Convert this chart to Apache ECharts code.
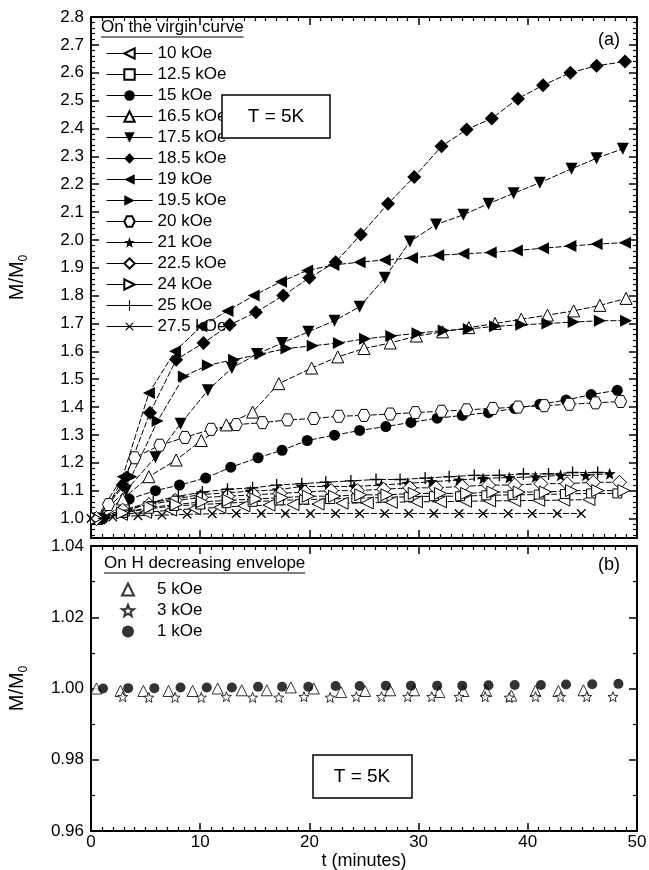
<!DOCTYPE html>
<html><head><meta charset="utf-8">
<script src="https://cdn.jsdelivr.net/npm/echarts@6/dist/echarts.min.js"></script>
<style>html,body{margin:0;padding:0;background:#fff}.ch{position:absolute;left:0;top:0;width:649px;height:870px}</style>
</head><body><div id="ca" class="ch"></div><div id="cb" class="ch"></div>
<script>
const FONT = '"Liberation Sans", Arial, Helvetica, sans-serif';

// ---------- tick labels ----------
const xTicks = [0, 10, 20, 30, 40, 50];
const yTicksA = [1.0, 1.1, 1.2, 1.3, 1.4, 1.5, 1.6, 1.7, 1.8, 1.9, 2.0, 2.1, 2.2, 2.3, 2.4, 2.5, 2.6, 2.7, 2.8];
const yTicksB = [0.96, 0.98, 1.00, 1.02, 1.04];

// ---------- panel (a): on the virgin curve ----------
const namesA = ['10 kOe','12.5 kOe','15 kOe','16.5 kOe','17.5 kOe','18.5 kOe','19 kOe','19.5 kOe','20 kOe','21 kOe','22.5 kOe','24 kOe','25 kOe','27.5 kOe'];

const t10   = [0.5, 2.8, 5.0, 7.3, 9.5, 11.8, 14.0, 16.3, 18.5, 20.8, 23.0, 25.3, 27.5, 29.8, 32.0, 34.3, 36.5, 38.8, 41.0, 43.3, 45.6];
const m10   = [1.0, 1.015, 1.022, 1.03, 1.035, 1.04, 1.045, 1.048, 1.05, 1.052, 1.055, 1.056, 1.058, 1.06, 1.06, 1.062, 1.063, 1.064, 1.065, 1.066, 1.068];
const t12_5 = [0.5, 2.9, 5.3, 7.6, 10.0, 12.4, 14.8, 17.2, 19.5, 21.9, 24.3, 26.7, 29.1, 31.4, 33.8, 36.2, 38.6, 41.0, 43.4, 45.8, 48.2];
const m12_5 = [1.0, 1.02, 1.035, 1.045, 1.05, 1.055, 1.06, 1.065, 1.068, 1.07, 1.073, 1.075, 1.078, 1.08, 1.08, 1.083, 1.085, 1.086, 1.088, 1.09, 1.09];
const t15   = [1.1, 3.5, 5.9, 8.1, 10.5, 12.8, 15.3, 17.5, 19.8, 22.3, 24.6, 27.0, 29.3, 31.7, 34.0, 36.4, 38.8, 41.1, 43.5, 45.8, 48.2];
const m15   = [1.0, 1.07, 1.10, 1.12, 1.145, 1.184, 1.218, 1.245, 1.28, 1.299, 1.316, 1.33, 1.345, 1.36, 1.37, 1.38, 1.395, 1.41, 1.425, 1.445, 1.46];
const t16_5 = [0.5, 2.9, 5.3, 7.8, 10.1, 12.4, 14.8, 17.2, 20.2, 22.6, 25.0, 27.4, 29.8, 32.2, 34.6, 37.0, 39.4, 41.8, 44.2, 46.6, 49.0];
const m16_5 = [1.0, 1.07, 1.15, 1.21, 1.28, 1.336, 1.382, 1.484, 1.54, 1.58, 1.61, 1.63, 1.655, 1.67, 1.685, 1.70, 1.715, 1.73, 1.745, 1.765, 1.79];
const t17_5 = [0.5, 3.2, 5.9, 8.2, 10.7, 12.9, 15.2, 17.5, 19.9, 22.3, 24.6, 26.9, 29.2, 31.6, 34.1, 36.4, 38.7, 41.1, 44.0, 46.3, 48.7];
const m17_5 = [1.0, 1.10, 1.22, 1.34, 1.46, 1.54, 1.59, 1.63, 1.67, 1.71, 1.76, 1.864, 1.994, 2.055, 2.09, 2.13, 2.167, 2.205, 2.255, 2.293, 2.327];
const t18_5 = [0.5, 2.9, 5.4, 7.8, 10.3, 12.7, 15.1, 17.6, 20.0, 22.4, 24.7, 27.2, 29.6, 32.1, 34.4, 36.7, 39.1, 41.4, 43.9, 46.3, 48.9];
const m18_5 = [1.0, 1.12, 1.38, 1.57, 1.63, 1.695, 1.74, 1.80, 1.864, 1.92, 2.019, 2.13, 2.226, 2.336, 2.396, 2.436, 2.507, 2.555, 2.60, 2.625, 2.64];
const t19   = [0.5, 2.9, 5.3, 7.7, 10.1, 12.5, 14.9, 17.4, 19.8, 22.2, 24.6, 26.9, 29.4, 31.8, 34.1, 36.6, 39.0, 41.4, 43.9, 46.3, 48.9];
const m19   = [1.0, 1.15, 1.45, 1.60, 1.69, 1.745, 1.80, 1.85, 1.89, 1.91, 1.92, 1.928, 1.935, 1.945, 1.95, 1.955, 1.962, 1.97, 1.978, 1.985, 1.99];
const t19_5 = [0.5, 3.7, 6.1, 8.5, 10.7, 13.1, 15.5, 17.9, 20.3, 22.7, 25.1, 27.5, 29.9, 32.3, 34.6, 37.0, 39.4, 41.8, 44.2, 46.6, 49.0];
const m19_5 = [1.0, 1.15, 1.35, 1.51, 1.55, 1.57, 1.59, 1.61, 1.62, 1.63, 1.645, 1.655, 1.665, 1.675, 1.68, 1.69, 1.695, 1.70, 1.705, 1.71, 1.71];
const t20   = [1.6, 4.0, 6.3, 8.6, 11.0, 13.3, 15.7, 18.0, 20.4, 22.7, 25.0, 27.4, 29.7, 32.1, 34.4, 36.8, 39.1, 41.5, 43.8, 46.2, 48.5];
const m20   = [1.05, 1.218, 1.263, 1.291, 1.32, 1.337, 1.344, 1.354, 1.359, 1.367, 1.37, 1.375, 1.38, 1.385, 1.39, 1.395, 1.40, 1.405, 1.41, 1.415, 1.42];
const t21   = [0.5, 2.9, 5.3, 7.6, 10.0, 12.4, 14.6, 17.1, 19.3, 21.7, 24.1, 26.6, 29.0, 31.2, 33.7, 35.9, 38.3, 40.7, 43.0, 45.3, 47.5];
const m21   = [1.0, 1.03, 1.057, 1.069, 1.086, 1.092, 1.098, 1.103, 1.115, 1.115, 1.115, 1.12, 1.126, 1.132, 1.138, 1.144, 1.147, 1.149, 1.155, 1.155, 1.161];
const t22_5 = [0.5, 2.9, 5.3, 7.7, 10.1, 12.5, 14.9, 17.3, 19.6, 22.0, 24.4, 26.8, 29.2, 31.6, 34.0, 36.4, 38.8, 41.2, 43.6, 46.0, 48.4];
const m22_5 = [1.0, 1.03, 1.05, 1.065, 1.075, 1.08, 1.085, 1.09, 1.095, 1.10, 1.10, 1.105, 1.11, 1.11, 1.115, 1.12, 1.12, 1.125, 1.125, 1.13, 1.13];
const t24   = [0.5, 2.9, 5.4, 7.8, 10.2, 12.6, 15.1, 17.5, 19.9, 22.3, 24.7, 27.1, 29.6, 32.0, 34.4, 36.8, 39.2, 41.6, 44.0, 46.4, 48.8];
const m24   = [1.0, 1.02, 1.04, 1.05, 1.06, 1.065, 1.07, 1.075, 1.08, 1.08, 1.085, 1.085, 1.09, 1.09, 1.09, 1.095, 1.095, 1.095, 1.10, 1.10, 1.10];
const t25   = [1.2, 3.5, 5.7, 8.0, 10.2, 12.5, 14.8, 17.0, 19.3, 21.5, 23.8, 26.1, 28.3, 30.6, 32.8, 35.1, 37.4, 39.6, 41.9, 44.1, 46.4];
const m25   = [1.0, 1.03, 1.06, 1.08, 1.095, 1.105, 1.11, 1.12, 1.125, 1.13, 1.135, 1.14, 1.14, 1.145, 1.15, 1.155, 1.155, 1.16, 1.16, 1.165, 1.165];
const t27_5 = [0.0, 2.0, 4.3, 6.5, 8.8, 11.1, 13.3, 15.6, 17.8, 20.1, 22.4, 24.6, 26.9, 29.1, 31.4, 33.7, 35.9, 38.2, 40.4, 42.7, 44.9];
const m27_5 = [1.0, 1.005, 1.01, 1.012, 1.015, 1.017, 1.018, 1.018, 1.018, 1.018, 1.018, 1.018, 1.018, 1.018, 1.018, 1.018, 1.018, 1.018, 1.018, 1.018, 1.018];

// ---------- panel (b): on H decreasing envelope ----------
const namesB = ['5 kOe', '3 kOe', '1 kOe'];
const tB5 = [0.5, 2.7, 4.8, 7.1, 9.3, 11.6, 13.8, 16.1, 18.3, 20.4, 22.9, 25.1, 27.4, 29.6, 31.9, 34.1, 36.2, 38.5, 40.7, 42.8, 45.1];
const mB5 = [1.0, 0.9993, 0.9993, 0.9993, 0.9993, 1.0, 0.9995, 0.9995, 1.0003, 1.0, 0.999, 0.9993, 0.9995, 0.9995, 0.999, 0.9993, 0.9993, 0.998, 0.9993, 0.9993, 0.9995];
const tB3 = [2.9, 5.3, 7.7, 10.1, 12.4, 14.8, 17.2, 19.5, 21.9, 24.3, 26.6, 29.0, 31.2, 33.7, 36.1, 38.3, 40.7, 43.0, 45.4, 47.8];
const mB3 = [0.9977, 0.9975, 0.9975, 0.9975, 0.9977, 0.9975, 0.9975, 0.9977, 0.9975, 0.9977, 0.9977, 0.9977, 0.9977, 0.9977, 0.9977, 0.9975, 0.9977, 0.9977, 0.9977, 0.9977];
const tB1 = [1.1, 3.4, 5.8, 8.2, 10.6, 12.9, 15.3, 17.5, 19.9, 22.4, 24.6, 27.0, 29.3, 31.7, 34.0, 36.4, 38.8, 41.2, 43.5, 45.9, 48.3];
const mB1 = [1.0, 1.0001, 1.0001, 1.0003, 1.0003, 1.0003, 1.0005, 1.0005, 1.0005, 1.0007, 1.0007, 1.0008, 1.0008, 1.0008, 1.0008, 1.0009, 1.001, 1.001, 1.0011, 1.0012, 1.0013];

// ---------- symbols ----------
const HEX = 'path://M-5,0L-2.5,-4.33L2.5,-4.33L5,0L2.5,4.33L-2.5,4.33Z';
const STAR = 'path://M0,-5L1.234,-1.699L4.755,-1.545L1.997,0.649L2.939,4.045L0,2.1L-2.939,4.045L-1.997,0.649L-4.755,-1.545L-1.234,-1.699Z';
const PLUS = 'path://M-0.55,-5H0.55V-0.55H5V0.55H0.55V5H-0.55V0.55H-5V-0.55H-0.55Z';

const OPEN = {color: '#fff', borderColor: '#000', borderWidth: 1};
const FILL = {color: '#000', borderColor: '#000', borderWidth: 0};

const styleA = {
  '10 kOe':   {symbol: 'triangle', rot: 90,  size: 12, it: OPEN},
  '12.5 kOe': {symbol: 'rect',     rot: 0,   size: 9,  it: OPEN},
  '15 kOe':   {symbol: 'circle',   rot: 0,   size: 11, it: FILL},
  '16.5 kOe': {symbol: 'triangle', rot: 0,   size: 12, it: OPEN},
  '17.5 kOe': {symbol: 'triangle', rot: 180, size: 12, it: FILL},
  '18.5 kOe': {symbol: 'diamond',  rot: 0,   size: 14, it: FILL},
  '19 kOe':   {symbol: 'triangle', rot: 90,  size: 12, it: FILL},
  '19.5 kOe': {symbol: 'triangle', rot: -90, size: 12, it: FILL},
  '20 kOe':   {symbol: HEX,        rot: 0,   size: 12, it: OPEN},
  '21 kOe':   {symbol: STAR,       rot: 0,   size: 12, it: FILL},
  '22.5 kOe': {symbol: 'diamond',  rot: 0,   size: 14, it: OPEN},
  '24 kOe':   {symbol: 'triangle', rot: -90, size: 12, it: OPEN},
  '25 kOe':   {symbol: PLUS,       rot: 0,   size: 12, it: FILL},
  '27.5 kOe': {symbol: PLUS,       rot: 45,  size: 12, it: FILL}
};
const dataA = {
  '10 kOe': [t10, m10], '12.5 kOe': [t12_5, m12_5], '15 kOe': [t15, m15],
  '16.5 kOe': [t16_5, m16_5], '17.5 kOe': [t17_5, m17_5], '18.5 kOe': [t18_5, m18_5],
  '19 kOe': [t19, m19], '19.5 kOe': [t19_5, m19_5], '20 kOe': [t20, m20],
  '21 kOe': [t21, m21], '22.5 kOe': [t22_5, m22_5], '24 kOe': [t24, m24],
  '25 kOe': [t25, m25], '27.5 kOe': [t27_5, m27_5]
};
const styleB = {
  '5 kOe': {symbol: 'triangle', size: 11, it: OPEN},
  '3 kOe': {symbol: STAR, size: 10, it: OPEN},
  '1 kOe': {symbol: 'circle', size: 10, it: FILL}
};
const dataB = {'5 kOe': [tB5, mB5], '3 kOe': [tB3, mB3], '1 kOe': [tB1, mB1]};

const pairs = (t, v) => t.map((x, i) => [x, v[i]]);

// ---------- layout ----------
const GL = 91, GW = 546;
const yMinA = 0.93, yMaxA = 2.8;
const minorA = [];
for (let k = Math.ceil(yMinA * 50); k <= 140; k++) if (k % 5 !== 0) minorA.push(k / 50);

function xAx(pos, labels) {
  return {
    type: 'value', position: pos, min: xTicks[0], max: xTicks[xTicks.length - 1], interval: xTicks[1] - xTicks[0],
    axisLine: {show: true, onZero: false, lineStyle: {color: '#000', width: 2}},
    axisTick: {show: true, inside: true, length: 8, lineStyle: {color: '#000', width: 1.5}},
    minorTick: {show: true, splitNumber: 10, length: 4, lineStyle: {color: '#000', width: 1.2}},
    axisLabel: {show: labels, color: '#000', fontFamily: FONT, fontSize: 17, margin: 3},
    splitLine: {show: false},
    name: labels ? 't (minutes)' : '', nameLocation: 'middle', nameGap: 14,
    nameTextStyle: {color: '#000', fontFamily: FONT, fontSize: 18}
  };
}
const yName = {
  name: '{m|M/M}{s|0}', nameLocation: 'middle', nameGap: 60,
  nameTextStyle: {color: '#000', fontFamily: FONT,
    rich: {m: {fontSize: 20, fontFamily: FONT, color: '#000', lineHeight: 28, verticalAlign: 'middle'},
           s: {fontSize: 12, fontFamily: FONT, color: '#000', lineHeight: 28, verticalAlign: 'bottom', padding: [0, 0, 1, 0]}}}
};
function yAxA(pos, major, labels) {
  const o = {
    type: 'value', position: pos, min: yMinA, max: yMaxA,
    axisLine: {show: major, onZero: false, lineStyle: {color: '#000', width: 2}},
    axisTick: {show: true, inside: true, length: major ? 8 : 4,
               customValues: major ? yTicksA : minorA, lineStyle: {color: '#000', width: major ? 1.5 : 1.2}},
    axisLabel: {show: labels, customValues: yTicksA, formatter: v => (+v).toFixed(1),
                color: '#000', fontFamily: FONT, fontSize: 17, margin: 7},
    splitLine: {show: false}
  };
  if (labels) Object.assign(o, yName);
  return o;
}
function yAxB(pos, labels) {
  const o = {
    type: 'value', position: pos, min: yTicksB[0], max: yTicksB[yTicksB.length - 1], interval: 0.02,
    axisLine: {show: true, onZero: false, lineStyle: {color: '#000', width: 2}},
    axisTick: {show: true, inside: true, length: 8, lineStyle: {color: '#000', width: 1.5}},
    minorTick: {show: true, splitNumber: 2, length: 4, lineStyle: {color: '#000', width: 1.2}},
    axisLabel: {show: labels, formatter: v => (+v).toFixed(2), color: '#000', fontFamily: FONT, fontSize: 17, margin: 7},
    splitLine: {show: false}
  };
  if (labels) Object.assign(o, yName);
  return o;
}

const seriesA = namesA.map(n => {
  const s = styleA[n];
  return {
    type: 'line', name: n, data: pairs(dataA[n][0], dataA[n][1]),
    symbol: s.symbol, symbolSize: s.size, symbolRotate: s.rot, showSymbol: true,
    itemStyle: Object.assign({}, s.it),
    lineStyle: {color: '#000', width: 1, type: [6, 2]},
    silent: true, emphasis: {disabled: true}, z: 3
  };
});
const seriesB = namesB.map(n => {
  const s = styleB[n];
  return {
    type: 'scatter', name: n, data: pairs(dataB[n][0], dataB[n][1]),
    symbol: s.symbol, symbolSize: s.size,
    itemStyle: Object.assign({}, s.it),
    silent: true, emphasis: {disabled: true}, z: 3
  };
});

const ctx = document.createElement('canvas').getContext('2d');
function tw(str, size) { ctx.font = size + 'px ' + FONT; return ctx.measureText(str).width; }
const titleA = 'On the virgin curve', titleB = 'On H decreasing envelope';
const TF = 17;
const txt = (x, y, text, size, align, z) => ({type: 'text', x: x, y: y, z: z || 5,
  style: {text: text, font: size + 'px ' + FONT, fill: '#000', align: align, textAlign: align, verticalAlign: 'middle', textVerticalAlign: 'middle'}});

// ---------- chart (a) ----------
const chartA = echarts.init(document.getElementById('ca'));
chartA.setOption({
  animation: false,
  grid: {left: GL, width: GW, top: 17, height: 521, containLabel: false, outerBoundsMode: 'none'},
  xAxis: [xAx('bottom', false), xAx('top', false)],
  yAxis: [yAxA('left', true, true), yAxA('left', false, false), yAxA('right', true, false), yAxA('right', false, false)],
  legend: {data: namesA, orient: 'vertical', left: 101, top: 40, itemWidth: 46, itemHeight: 13, itemGap: 4,
     selectedMode: false, textStyle: {color: '#000', fontFamily: FONT, fontSize: 17, lineHeight: 17},
     lineStyle: {type: 'solid', width: 1, color: '#000'}},
  graphic: [
    txt(101, 27, titleA, TF, 'left'),
    {type: 'line', shape: {x1: 101, y1: 37, x2: 101 + tw(titleA, TF), y2: 37}, style: {stroke: '#000', lineWidth: 1}},
    txt(620, 40, '(a)', 18, 'right'),
    {type: 'rect', z: 10, shape: {x: 222, y: 95, width: 108, height: 43}, style: {fill: '#fff', stroke: '#000', lineWidth: 1.5}},
    txt(276, 117, 'T = 5K', 19, 'center', 11)
  ],
  series: seriesA
});

// ---------- chart (b) ----------
const chartB = echarts.init(document.getElementById('cb'));
chartB.setOption({
  animation: false,
  grid: {left: GL, width: GW, top: 546, height: 285, containLabel: false, outerBoundsMode: 'none'},
  xAxis: [xAx('bottom', true), xAx('top', false)],
  yAxis: [yAxB('left', true), yAxB('right', false)],
  legend: {data: namesB, orient: 'vertical', left: 116, top: 576, itemWidth: 12, itemHeight: 12, itemGap: 4,
     selectedMode: false, textStyle: {color: '#000', fontFamily: FONT, fontSize: 17, lineHeight: 17, padding: [0, 0, 0, 18]}},
  graphic: [
    txt(104, 563, titleB, TF, 'left'),
    {type: 'line', shape: {x1: 104, y1: 573, x2: 104 + tw(titleB, TF), y2: 573}, style: {stroke: '#000', lineWidth: 1}},
    txt(620, 565, '(b)', 18, 'right'),
    {type: 'rect', z: 10, shape: {x: 313, y: 755, width: 99, height: 43}, style: {fill: '#fff', stroke: '#000', lineWidth: 1.5}},
    txt(362, 777, 'T = 5K', 19, 'center', 11)
  ],
  series: seriesB
});
</script></body></html>
